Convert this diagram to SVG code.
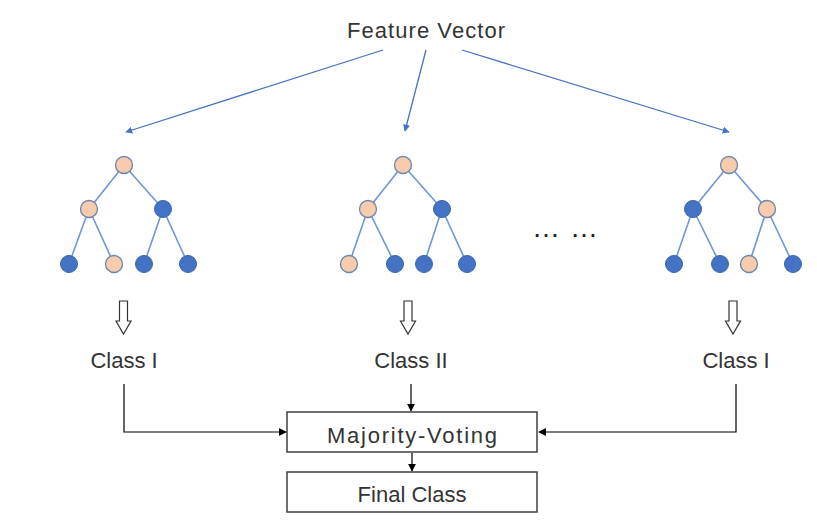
<svg xmlns="http://www.w3.org/2000/svg" width="817" height="525" viewBox="0 0 817 525">
<defs>
<marker id="ab" viewBox="0 0 10 10" refX="9" refY="5" markerWidth="7" markerHeight="7" orient="auto" markerUnits="userSpaceOnUse"><path d="M0,0 L10,5 L0,10 z" fill="#4472C4"/></marker>
<marker id="ak" viewBox="0 0 10 10" refX="9" refY="5" markerWidth="8" markerHeight="8" orient="auto" markerUnits="userSpaceOnUse"><path d="M0,0 L10,5 L0,10 z" fill="#000"/></marker>
<path id="hollow" d="M-4,0 H4 V20 H7.5 L0,33 L-7.5,20 H-4 Z"/>
</defs>
<style>
text{font-family:"Liberation Sans",Arial,sans-serif;font-size:22px;fill:#333;text-anchor:middle}
.e{stroke:#6F96D8;stroke-width:1.6;fill:none}
.b{fill:#4472C4;stroke:#3A63AD;stroke-width:1}
.p{fill:#F8CBAD;stroke:#6C85B0;stroke-width:1.3}
.fv{stroke:#4472C4;stroke-width:1.3;fill:none}
.k{stroke:#000;stroke-width:1.2;fill:none}
.box{fill:#fff;stroke:#404040;stroke-width:1.5}
.h{fill:#fff;stroke:#333;stroke-width:1.2}
</style>
<rect width="817" height="525" fill="#fff"/>
<g id="feature"><text x="426" y="38" textLength="158">Feature Vector</text></g>
<g id="connectors">
<line class="fv" x1="383" y1="50" x2="126" y2="132" marker-end="url(#ab)"/>
<line class="fv" x1="426" y1="50" x2="405" y2="131" marker-end="url(#ab)"/>
<line class="fv" x1="462" y1="50" x2="729" y2="132" marker-end="url(#ab)"/>
<polyline class="k" points="124,384 124,432 286,432" marker-end="url(#ak)"/>
<line class="k" x1="411" y1="384" x2="411" y2="411" marker-end="url(#ak)"/>
<polyline class="k" points="736,384 736,432 539,432" marker-end="url(#ak)"/>
<line class="k" x1="412" y1="453" x2="412" y2="471" marker-end="url(#ak)"/>
</g>
<g id="tree1">
<path class="e" d="M124,165 L89,209 M124,165 L163,209 M89,209 L69,264 M89,209 L114,264 M163,209 L144,264 M163,209 L188,264"/>
<circle class="p" cx="124" cy="165" r="8.5"/>
<circle class="p" cx="89" cy="209" r="8.5"/>
<circle class="b" cx="163" cy="209" r="8.5"/>
<circle class="b" cx="69" cy="264" r="8.5"/>
<circle class="p" cx="114" cy="264" r="8.5"/>
<circle class="b" cx="144" cy="264" r="8.5"/>
<circle class="b" cx="188" cy="264" r="8.5"/>
</g>
<g id="tree2">
<path class="e" d="M403,165 L368,209 M403,165 L442,209 M368,209 L349,264 M368,209 L395,264 M442,209 L424,264 M442,209 L467,264"/>
<circle class="p" cx="403" cy="165" r="8.5"/>
<circle class="p" cx="368" cy="209" r="8.5"/>
<circle class="b" cx="442" cy="209" r="8.5"/>
<circle class="p" cx="349" cy="264" r="8.5"/>
<circle class="b" cx="395" cy="264" r="8.5"/>
<circle class="b" cx="424" cy="264" r="8.5"/>
<circle class="b" cx="467" cy="264" r="8.5"/>
</g>
<g id="tree3">
<path class="e" d="M729,165 L693,209 M729,165 L767,209 M693,209 L674,264 M693,209 L720,264 M767,209 L749,264 M767,209 L793,264"/>
<circle class="p" cx="729" cy="165" r="8.5"/>
<circle class="b" cx="693" cy="209" r="8.5"/>
<circle class="p" cx="767" cy="209" r="8.5"/>
<circle class="b" cx="674" cy="264" r="8.5"/>
<circle class="b" cx="720" cy="264" r="8.5"/>
<circle class="p" cx="749" cy="264" r="8.5"/>
<circle class="b" cx="793" cy="264" r="8.5"/>
</g>
<g id="dots"><text style="font-size:28px;text-anchor:start;fill:#222"><tspan x="532" y="237">…</tspan><tspan x="570" y="237">…</tspan></text></g>
<g id="arrow1"><use href="#hollow" class="h" transform="translate(123.5,301)"/></g>
<g id="arrow2"><use href="#hollow" class="h" transform="translate(408,301)"/></g>
<g id="arrow3"><use href="#hollow" class="h" transform="translate(733,301)"/></g>
<g id="class1"><text x="124" y="368">Class I</text></g>
<g id="class2"><text x="411" y="368">Class II</text></g>
<g id="class3"><text x="736" y="368">Class I</text></g>
<g id="voting"><rect class="box" x="287" y="412" width="250" height="40"/><text x="412" y="443" textLength="170">Majority-Voting</text></g>
<g id="final"><rect class="box" x="287" y="472" width="250" height="40"/><text x="412" y="502">Final Class</text></g>
</svg>
